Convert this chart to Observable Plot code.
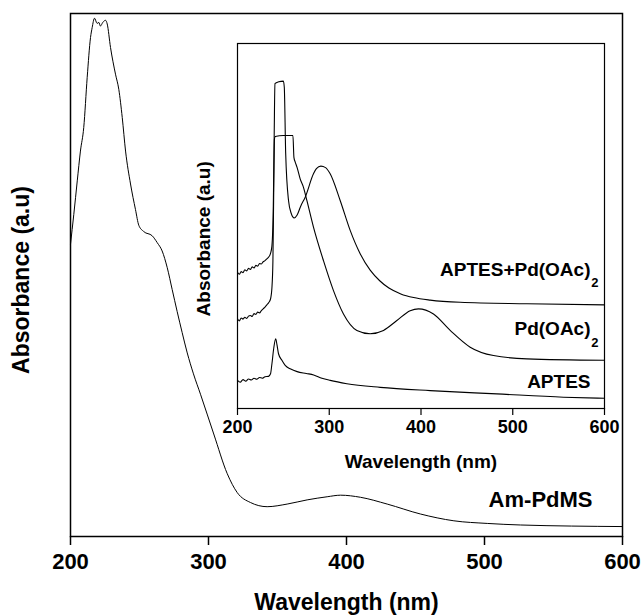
<!DOCTYPE html>
<html>
<head>
<meta charset="utf-8">
<script src="https://cdn.jsdelivr.net/npm/d3@7"></script>
<script src="https://cdn.jsdelivr.net/npm/@observablehq/plot@0.6"></script>
<style>
html, body { margin: 0; padding: 0; background: #fff; }
#chart { position: relative; width: 643px; height: 615px; background: #fff; }
#chart svg { position: absolute; left: 0; top: 0; }
</style>
</head>
<body>
<div id="chart"></div>
<script>
// ---------- main chart data (Am-PdMS) ----------
const mainTicks = [200, 300, 400, 500, 600];
const mainXLabel = "Wavelength (nm)";
const mainYLabel = "Absorbance (a.u)";
const mainSeriesName = "Am-PdMS";
const amPdmsWavelength = [200, 202.4, 204.9, 207.2, 209.6, 212.1, 214.5, 215.7, 217.4, 219.3, 220.5, 221.7, 223.4, 225.4, 226.6, 229, 232.6, 235, 237.5, 239.9, 243.5, 247.1, 249.5, 253.1, 259.2, 262.8, 266.4, 270.1, 273.7, 277.3, 280.9, 284.6, 289.1, 294.2, 303.8, 313.6, 320.8, 330.4, 342.5, 357, 371.5, 386, 395.7, 410.1, 429.5, 453.6, 477.8, 502, 526.1, 600];
const amPdmsAbsorbance = [0.559, 0.616, 0.680, 0.737, 0.782, 0.878, 0.954, 0.973, 0.991, 0.981, 0.983, 0.976, 0.983, 0.987, 0.980, 0.935, 0.884, 0.855, 0.801, 0.737, 0.674, 0.625, 0.595, 0.583, 0.575, 0.562, 0.546, 0.514, 0.472, 0.430, 0.390, 0.351, 0.311, 0.272, 0.196, 0.120, 0.084, 0.065, 0.057, 0.062, 0.070, 0.076, 0.079, 0.075, 0.062, 0.043, 0.030, 0.025, 0.022, 0.019];

// ---------- inset data ----------
const insetTicks = [200, 300, 400, 500, 600];
const insetXLabel = "Wavelength (nm)";
const insetYLabel = "Absorbance (a.u)";
const insetNames = ["APTES+Pd(OAc)", "Pd(OAc)", "APTES"];
const insetSubscripts = ["2", "2", ""];

const aptesPdWavelength = [200, 202, 204, 206, 208, 210, 212, 214, 216, 218, 220, 222, 224, 226, 228, 230, 232, 234, 236, 237.5, 239, 240, 240.8, 245, 250, 251, 252.5, 255.6, 258.5, 261.8, 265, 269, 273.8, 282.8, 286, 290.9, 296, 301, 311.9, 322.8, 333.7, 344.6, 355, 365, 378, 392, 410, 442.7, 515.4, 600];
const aptesPdAbsorbance = [0.373, 0.368, 0.375, 0.372, 0.380, 0.377, 0.384, 0.381, 0.388, 0.385, 0.392, 0.390, 0.397, 0.396, 0.402, 0.405, 0.410, 0.415, 0.425, 0.445, 0.55, 0.75, 0.89, 0.895, 0.897, 0.88, 0.70, 0.57, 0.535, 0.522, 0.53, 0.555, 0.579, 0.643, 0.657, 0.664, 0.66, 0.643, 0.570, 0.488, 0.424, 0.379, 0.350, 0.330, 0.314, 0.304, 0.297, 0.291, 0.287, 0.284];

const pdWavelength = [200, 202, 204, 206, 208, 210, 212, 214, 216, 218, 220, 222, 224, 226, 228, 230, 232, 234, 236, 237.5, 238.6, 239.5, 240.3, 241.1, 250, 260.4, 261.5, 262.9, 265, 268.3, 271.9, 275.6, 282.8, 293.7, 304.6, 315.5, 330.1, 344.6, 359.1, 373.7, 388.2, 397.3, 413.6, 431.8, 453.6, 479, 515.4, 600];
const pdAbsorbance = [0.246, 0.240, 0.248, 0.245, 0.250, 0.247, 0.253, 0.255, 0.252, 0.260, 0.258, 0.264, 0.262, 0.268, 0.273, 0.278, 0.284, 0.290, 0.300, 0.330, 0.405, 0.600, 0.739, 0.745, 0.748, 0.748, 0.688, 0.675, 0.660, 0.629, 0.606, 0.570, 0.497, 0.405, 0.323, 0.259, 0.214, 0.205, 0.214, 0.241, 0.268, 0.273, 0.259, 0.214, 0.168, 0.145, 0.136, 0.132];

const aptesWavelength = [200, 203, 206, 209, 212, 215, 218, 221, 224, 227, 230, 233.8, 236, 237.5, 239.5, 241.6, 243, 244.7, 248.4, 252, 258, 265, 275, 283, 292, 301, 319.2, 355.5, 410, 482.7, 555.3, 600];
const aptesAbsorbance = [0.077, 0.072, 0.079, 0.075, 0.081, 0.078, 0.083, 0.080, 0.085, 0.083, 0.087, 0.088, 0.095, 0.122, 0.165, 0.191, 0.175, 0.150, 0.132, 0.118, 0.108, 0.101, 0.096, 0.092, 0.083, 0.077, 0.068, 0.058, 0.049, 0.040, 0.031, 0.028];

// ---------- build ----------
const font = "Arial, 'Liberation Sans', Helvetica, sans-serif";
const toRows = (xs, ys) => xs.map((x, i) => ({x, y: ys[i]}));
const last = (rows) => [rows[rows.length - 1]];

const mainRows = toRows(amPdmsWavelength, amPdmsAbsorbance);
const insetSeries = [
  toRows(aptesPdWavelength, aptesPdAbsorbance),
  toRows(pdWavelength, pdAbsorbance),
  toRows(aptesWavelength, aptesAbsorbance)
];

const main = Plot.plot({
  width: 643, height: 615,
  marginLeft: 70, marginRight: 21, marginTop: 13, marginBottom: 79,
  style: {fontFamily: font, fontWeight: "bold", background: "transparent", color: "#000"},
  x: {domain: [200, 600]},
  y: {domain: [0, 1], axis: null},
  marks: [
    Plot.frame({stroke: "#000", strokeWidth: 1.5}),
    Plot.axisX({ticks: mainTicks, tickFormat: d => String(d), tickSize: 9, tickPadding: 8, fontSize: 22, fontWeight: "bold", strokeWidth: 1.5, label: null}),
    Plot.line(mainRows, {x: "x", y: "y", stroke: "#000", strokeWidth: 1, curve: "monotone-x"}),
    Plot.text([mainXLabel], {text: d => d, frameAnchor: "bottom", textAnchor: "middle", lineAnchor: "top", dy: 57, fontSize: 23, fontWeight: "bold", fill: "#000"}),
    Plot.text([mainYLabel], {text: d => d, frameAnchor: "left", textAnchor: "middle", rotate: -90, dx: -48.5, dy: 5, fontSize: 23, fontWeight: "bold", fill: "#000"}),
    Plot.text(last(mainRows), {x: "x", y: "y", text: () => mainSeriesName, textAnchor: "end", lineAnchor: "bottom", dx: -30, dy: -20, fontSize: 22, fontWeight: "bold", fill: "#000"})
  ]
});

const labelOffsets = [
  {dx: -14, dy: -29, sdx: -6, sdy: -17.6},
  {dx: -14, dy: -25, sdx: -6, sdy: -13.3},
  {dx: -14, dy: -10.5, sdx: -6, sdy: 0}
];

const insetMarks = [
  Plot.frame({stroke: "#000", strokeWidth: 1.2}),
  Plot.axisX({ticks: insetTicks, tickFormat: d => String(d), tickSize: 7, tickPadding: 5, fontSize: 18, fontWeight: "bold", strokeWidth: 1.2, label: null}),
  Plot.text([insetXLabel], {text: d => d, frameAnchor: "bottom", textAnchor: "middle", lineAnchor: "top", dy: 46, fontSize: 19, fontWeight: "bold", fill: "#000"}),
  Plot.text([insetYLabel], {text: d => d, frameAnchor: "left", textAnchor: "middle", rotate: -90, dx: -33.8, dy: 12.8, fontSize: 19, fontWeight: "bold", fill: "#000"})
];
insetSeries.forEach((rows, i) => {
  insetMarks.push(Plot.line(rows, {x: "x", y: "y", stroke: "#000", strokeWidth: 1.1, curve: "monotone-x"}));
  const o = labelOffsets[i];
  const sub = insetSubscripts[i];
  insetMarks.push(Plot.text(last(rows), {x: "x", y: "y", text: () => insetNames[i], textAnchor: "end", lineAnchor: "bottom", dx: o.dx, dy: o.dy, fontSize: 19, fontWeight: "bold", fill: "#000"}));
  if (sub) {
    insetMarks.push(Plot.text(last(rows), {x: "x", y: "y", text: () => sub, textAnchor: "end", lineAnchor: "bottom", dx: o.sdx, dy: o.sdy, fontSize: 13, fontWeight: "bold", fill: "#000"}));
  }
});

const inset = Plot.plot({
  width: 643, height: 615,
  marginLeft: 237, marginRight: 39, marginTop: 43, marginBottom: 207,
  style: {fontFamily: font, fontWeight: "bold", background: "transparent", color: "#000"},
  x: {domain: [200, 600]},
  y: {domain: [0, 1], axis: null},
  marks: insetMarks
});

const chart = document.getElementById("chart");
chart.appendChild(main);
chart.appendChild(inset);
</script>
</body>
</html>
